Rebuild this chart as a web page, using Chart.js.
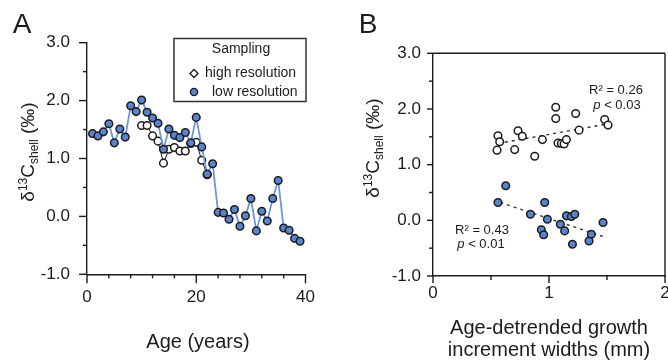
<!DOCTYPE html>
<html>
<head>
<meta charset="utf-8">
<script src="https://cdn.jsdelivr.net/npm/chart.js@4.4.1/dist/chart.umd.min.js"></script>
<style>
  html,body{margin:0;padding:0;background:#fff;}
  #wrap{position:relative;width:668px;height:363px;overflow:hidden;}
  canvas{position:absolute;top:0;}
  #cA{left:0;} #cB{left:340px;}
</style>
</head>
<body>
<div id="wrap">
  <canvas id="cA" width="340" height="363"></canvas>
  <canvas id="cB" width="340" height="363"></canvas>
</div>
<script>
// Panel A: d13C time series
const ageLow = [1,2,3,4,5,6,7,8,9,10,11,12,13,14,15,16,17,18,19,20,21,22,23,24,25,26,27,28,29,30,31,32,33,34,35,36,37,38,39];
const d13cLow = [1.43,1.39,1.46,1.60,1.27,1.51,1.37,1.91,1.81,2.01,1.80,1.70,1.61,1.16,1.51,1.40,1.36,1.45,1.27,1.71,1.20,0.73,0.91,0.07,0.06,-0.05,0.12,-0.17,0.01,0.31,-0.25,0.09,-0.08,0.31,0.62,-0.20,-0.24,-0.38,-0.43];
const ageHigh = [10,11,12,13,14,15,16,17,18,19,20,21,22];
const d13cHigh = [1.57,1.57,1.39,1.30,0.92,1.16,1.19,1.13,1.13,1.26,1.28,0.97,0.72];

// Panel B: d13C vs growth increment width
const widthOpen = [0.56,0.575,0.552,0.704,0.733,0.77,0.877,0.943,1.058,1.058,1.078,1.107,1.13,1.15,1.23,1.259,1.48,1.509];
const d13cOpen = [1.52,1.41,1.26,1.27,1.61,1.51,1.15,1.45,2.03,1.83,1.39,1.38,1.37,1.45,1.92,1.62,1.81,1.71];
const widthFilled = [0.627,0.56,0.84,0.963,0.986,0.934,0.954,1.098,1.135,1.15,1.193,1.222,1.202,1.345,1.365,1.466];
const d13cFilled = [0.62,0.32,0.11,0.32,0.02,-0.17,-0.26,-0.07,-0.19,0.08,0.07,0.11,-0.43,-0.37,-0.25,-0.04];
const fitOpenX = [0.56,1.5], fitOpenY = [1.38,1.73];
const fitFilledX = [0.58,1.48], fitFilledY = [0.32,-0.30];

const FONT = '"Liberation Sans", Arial, Helvetica, sans-serif';
const BLUE = '#5a83cd', BLUE_LINE = '#6d96dc', INK = '#1c1c1c';
const R = 3.8, BW = 1.5;
const pts = (xs, ys) => xs.map((x,i) => ({x, y: ys[i]}));

function line(ctx,x1,y1,x2,y2){ ctx.beginPath(); ctx.moveTo(x1,y1); ctx.lineTo(x2,y2); ctx.stroke(); }

// δ13Cshell (‰), rotated, with super/subscript
function deltaTitle(ctx, cx, cy){
  const parts = [['δ',19,6],['13',12,-1],['C',19,6],['shell',12,10],[' (‰)',19,6]];
  let total = 0;
  parts.forEach(p => { ctx.font = p[1]+'px '+FONT; p.push(ctx.measureText(p[0]).width); total += p[3]; });
  ctx.save(); ctx.translate(cx, cy); ctx.rotate(-Math.PI/2);
  ctx.textAlign = 'left'; ctx.textBaseline = 'alphabetic'; ctx.fillStyle = INK;
  let x = -total/2;
  parts.forEach(p => { ctx.font = p[1]+'px '+FONT; ctx.fillText(p[0], x, p[2]); x += p[3]; });
  ctx.restore();
}
function text(ctx, t, x, y, size, align, style){
  ctx.font = (style||'') + ' ' + size + 'px ' + FONT;
  ctx.textAlign = align || 'center'; ctx.textBaseline = 'middle'; ctx.fillStyle = INK;
  ctx.fillText(t, x, y);
}
// "p < 0.0x" with italic p
function pText(ctx, rest, cx, y){
  ctx.font = 'italic 13px '+FONT; const w1 = ctx.measureText('p').width;
  ctx.font = '13px '+FONT; const w2 = ctx.measureText(rest).width;
  const x0 = cx - (w1+w2)/2;
  text(ctx, 'p', x0, y, 13, 'left', 'italic');
  text(ctx, rest, x0+w1, y, 13, 'left');
}

const decor = {
  id: 'decor',
  afterDraw(chart, args, o){
    const ctx = chart.ctx, a = chart.chartArea, xs = chart.scales.x, ys = chart.scales.y;
    ctx.save();
    ctx.strokeStyle = INK; ctx.lineWidth = 1.4;
    ys.ticks.forEach(t => { const p = ys.getPixelForValue(t.value); const l = Number.isInteger(t.value) ? o.yMaj : o.yMin; line(ctx, a.left - l, p, a.left, p); });
    xs.ticks.forEach(t => { const p = xs.getPixelForValue(t.value); const l = o.xIsMajor(t.value) ? o.xMaj : o.xMin; line(ctx, p, a.bottom, p, a.bottom + l); });
    if (o.box){ line(ctx, a.left, a.top, a.right, a.top); line(ctx, a.right, a.top, a.right, a.bottom); }
    o.draw(ctx, chart);
    ctx.restore();
  }
};

function baseScales(xMin, xMax, xStep, xLabel, yWidth, xHeight, yPad, xPad){
  const tickFont = {family: FONT, size: 17};
  return {
    x: { type:'linear', min:xMin, max:xMax, afterFit: s => { s.height = xHeight; },
         grid:{display:false, drawTicks:false}, border:{display:true, color:INK, width:1.4},
         ticks:{stepSize:xStep, color:INK, font:tickFont, padding:xPad, maxRotation:0, autoSkip:false, callback: v => xLabel(v) ? String(v) : ''} },
    y: { type:'linear', min:-1, max:3, afterFit: s => { s.width = yWidth; },
         grid:{display:false, drawTicks:false}, border:{display:true, color:INK, width:1.4},
         ticks:{stepSize:0.5, color:INK, font:tickFont, padding:yPad, autoSkip:false, callback: v => Number.isInteger(v) ? v.toFixed(1) : ''} }
  };
}

new Chart(document.getElementById('cA'), {
  type: 'scatter',
  data: { datasets: [
    { label:'low resolution', data: pts(ageLow, d13cLow), showLine:true, order:0,
      borderColor: BLUE_LINE, borderWidth:1.8, pointBackgroundColor: BLUE, pointBorderColor: INK,
      pointBorderWidth:BW, pointRadius:R },
    { label:'high resolution', data: pts(ageHigh, d13cHigh), showLine:true, order:1,
      borderColor: INK, borderWidth:1, pointBackgroundColor:'#fff', pointBorderColor: INK,
      pointBorderWidth:BW, pointRadius:R }
  ]},
  options: {
    responsive:false, animation:false, devicePixelRatio:1,
    layout:{ padding:{ top:42.7, right:34.5, left:0, bottom:0 } },
    plugins:{ legend:{display:false}, tooltip:{enabled:false},
      decor:{ yMaj:8, yMin:4, xMaj:9, xMin:4, xIsMajor: v => v % 20 === 0,
        draw(ctx){
          text(ctx, 'A', 22, 25, 28);
          deltaTitle(ctx, 28, 152);
          text(ctx, 'Age (years)', 198, 342, 20);
          // legend box
          ctx.lineWidth = 1.5; ctx.strokeStyle = '#333';
          ctx.strokeRect(174, 38.5, 132, 63);
          text(ctx, 'Sampling', 241, 49, 14);
          text(ctx, 'high resolution', 205, 73.5, 14, 'left');
          text(ctx, 'low resolution', 212, 92, 14, 'left');
          ctx.lineWidth = 1.4; ctx.strokeStyle = INK; ctx.fillStyle = '#fff';
          ctx.beginPath(); ctx.moveTo(194,69.5); ctx.lineTo(198,73.5); ctx.lineTo(194,77.5); ctx.lineTo(190,73.5); ctx.closePath(); ctx.fill(); ctx.stroke();
          ctx.fillStyle = BLUE; ctx.beginPath(); ctx.arc(194, 92, 3.6, 0, Math.PI*2); ctx.fill(); ctx.stroke();
        } } },
    scales: baseScales(0, 40, 4, v => v % 20 === 0, 87, 363-274.3, 17, 13)
  },
  plugins:[decor]
});

new Chart(document.getElementById('cB'), {
  type: 'scatter',
  data: { datasets: [
    { label:'fit high', data: pts(fitOpenX, fitOpenY), showLine:true, pointRadius:0, order:3,
      borderColor:'#333', borderWidth:1.4, borderDash:[3,4] },
    { label:'fit low', data: pts(fitFilledX, fitFilledY), showLine:true, pointRadius:0, order:3,
      borderColor:'#333', borderWidth:1.4, borderDash:[3,4] },
    { label:'high resolution', data: pts(widthOpen, d13cOpen), order:1,
      pointBackgroundColor:'#fff', pointBorderColor: INK, pointBorderWidth:BW, pointRadius:R },
    { label:'low resolution', data: pts(widthFilled, d13cFilled), order:0,
      pointBackgroundColor: BLUE, pointBorderColor: INK, pointBorderWidth:BW, pointRadius:R }
  ]},
  options: {
    responsive:false, animation:false, devicePixelRatio:1,
    layout:{ padding:{ top:53.3, right:15, left:0, bottom:0 } },
    plugins:{ legend:{display:false}, tooltip:{enabled:false},
      decor:{ yMaj:6, yMin:4, xMaj:7, xMin:4, box:true, xIsMajor: v => Number.isInteger(v),
        draw(ctx){
          text(ctx, 'B', 28, 25, 28);
          deltaTitle(ctx, 33, 148);
          text(ctx, 'Age-detrended growth', 209, 328, 20);
          text(ctx, 'increment widths (mm)', 209, 350, 20);
          text(ctx, 'R² = 0.26', 276, 90, 13);
          pText(ctx, ' < 0.03', 277, 105);
          text(ctx, 'R² = 0.43', 142, 230, 13);
          pText(ctx, ' < 0.01', 141, 244);
        } } },
    scales: baseScales(0, 2, 0.5, v => Number.isInteger(v), 93, 363-276, 12, 7)
  },
  plugins:[decor]
});
</script>
</body>
</html>
